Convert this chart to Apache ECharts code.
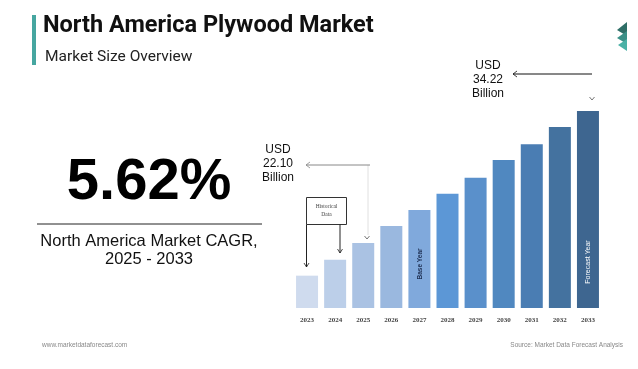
<!DOCTYPE html>
<html>
<head>
<meta charset="utf-8">
<script src="https://cdn.jsdelivr.net/npm/echarts@6/dist/echarts.min.js"></script>
<style>
html,body{margin:0;padding:0;background:#fff;}
#chart{width:638px;height:369px;}
</style>
</head>
<body>
<div id="chart"></div>
<script>
// ---- data ----
var years = ['2023','2024','2025','2026','2027','2028','2029','2030','2031','2032','2033'];
var marketSize = [19.10, 20.57, 22.10, 23.66, 25.13, 26.63, 28.10, 29.72, 31.16, 32.75, 34.22]; // USD billion
var cagrText = '5.62%';
var startLabel = ['USD', '22.10', 'Billion'];
var endLabel = ['USD', '34.22', 'Billion'];

// ---- styles ----
var palette = ['#cfdbee','#bccfe9','#aac2e3','#9ab8df','#80a9dc','#5c97d6','#5a90cb','#5088c0','#4a7db3','#44729f','#3e6690'];

var chart = echarts.init(document.getElementById('chart'), null, {renderer:'canvas'});

function arrowLeft(x1, x2, y, color){
  return [
    {type:'line', shape:{x1:x1, y1:y, x2:x2, y2:y}, style:{stroke:color, lineWidth:1}},
    {type:'polyline', shape:{points:[[x2+4,y-3],[x2,y],[x2+4,y+3]]}, style:{stroke:color, lineWidth:0.8, fill:null}}
  ];
}
function arrowDown(x, y1, y2, color){
  return [
    {type:'line', shape:{x1:x, y1:y1, x2:x, y2:y2}, style:{stroke:color, lineWidth:1}},
    {type:'polyline', shape:{points:[[x-2.5,y2-4],[x,y2],[x+2.5,y2-4]]}, style:{stroke:color, lineWidth:0.8, fill:null}}
  ];
}
function check(x, y, color){
  return {type:'polyline', shape:{points:[[x-2.5,y-2],[x,y+1],[x+2.5,y-2]]}, style:{stroke:color, lineWidth:0.8, fill:null}};
}

var graphics = [
  // title block
  {type:'rect', shape:{x:32, y:15, width:4, height:50}, style:{fill:'#46a6a0'}},
  {type:'text', x:43, y:26, style:{text:'North America Plywood Market', font:'bold 23.5px Roboto', fill:'#111', textVerticalAlign:'middle'}},
  {type:'text', x:45, y:57, style:{text:'Market Size Overview', font:'15.5px Roboto', fill:'#222', textVerticalAlign:'middle'}},
  // logo
  {type:'polygon', shape:{points:[[627,22],[617,30],[627,36]]}, style:{fill:'#2f6e67'}},
  {type:'polygon', shape:{points:[[627,31],[617,38],[627,44]]}, style:{fill:'#3b9087'}},
  {type:'polygon', shape:{points:[[627,39],[618,45],[627,51]]}, style:{fill:'#4bb1a6'}},
  // CAGR block
  {type:'text', x:149, y:212, style:{text:cagrText, font:'bold 58px "Liberation Sans", Arial', fill:'#000', textAlign:'center', textVerticalAlign:'bottom'}},
  {type:'line', shape:{x1:37, y1:224, x2:262, y2:224}, style:{stroke:'#222', lineWidth:1}},
  {type:'text', x:149, y:241, style:{text:'North America Market CAGR,', font:'16.5px "Liberation Sans", Arial', fill:'#111', textAlign:'center', textVerticalAlign:'middle'}},
  {type:'text', x:149, y:259, style:{text:'2025 - 2033', font:'16.5px "Liberation Sans", Arial', fill:'#111', textAlign:'center', textVerticalAlign:'middle'}},
  // USD 22.10 annotation
  {type:'text', x:278, y:164, style:{text:startLabel.join('\n'), font:'12px "Liberation Sans", Arial', fill:'#111', textAlign:'center', textVerticalAlign:'middle', lineHeight:14}},
  // USD 34.22 annotation
  {type:'text', x:488, y:80, style:{text:endLabel.join('\n'), font:'12px "Liberation Sans", Arial', fill:'#111', textAlign:'center', textVerticalAlign:'middle', lineHeight:14}},
  {type:'line', shape:{x1:368, y1:165, x2:368, y2:235}, style:{stroke:'#d8d8d8', lineWidth:0.8}},
  check(367, 238, '#555'),
  check(592, 99, '#555'),
  // Historical data box
  {type:'rect', shape:{x:306.5, y:197.5, width:40, height:27}, style:{stroke:'#333', lineWidth:1, fill:'#fff'}},
  {type:'text', x:326.5, y:211, style:{text:'Historical\nData', font:'5.5px "Liberation Serif", serif', fill:'#444', textAlign:'center', textVerticalAlign:'middle', lineHeight:8}},
  // rotated labels in bars
  {type:'text', x:420, y:264, rotation:Math.PI/2, style:{text:'Base Year', font:'bold 6.5px "Liberation Sans", Arial', fill:'#1d2f52', textAlign:'center', textVerticalAlign:'middle'}},
  {type:'text', x:588, y:262, rotation:Math.PI/2, style:{text:'Forecast Year', font:'7px "Liberation Sans", Arial', fill:'#ffffff', textAlign:'center', textVerticalAlign:'middle'}},
  // footer
  {type:'text', x:42, y:345, style:{text:'www.marketdataforecast.com', font:'6.5px "Liberation Sans", Arial', fill:'#888', textVerticalAlign:'middle'}},
  {type:'text', x:623, y:345, style:{text:'Source: Market Data Forecast Analysis', font:'6.5px "Liberation Sans", Arial', fill:'#888', textAlign:'right', textVerticalAlign:'middle'}}
];
graphics = graphics
  .concat(arrowLeft(370, 306, 165, '#888'))
  .concat(arrowLeft(592, 513, 74, '#111'))
  .concat(arrowDown(306.5, 224.5, 267, '#222'))
  .concat(arrowDown(340, 224.5, 253, '#222'));
graphics.forEach(function(g){ g.z = 100; });

chart.setOption({
  animation:false,
  backgroundColor:'#ffffff',
  grid:{left:293, right:36, top:111, bottom:61},
  xAxis:{
    type:'category', data:years,
    axisLine:{show:false}, axisTick:{show:false},
    axisLabel:{margin:9, fontSize:7, fontFamily:'"Liberation Serif", serif', color:'#444', fontWeight:'bold'}
  },
  yAxis:{type:'value', min:16.13, max:34.22, show:false, splitLine:{show:false}},
  series:[{
    type:'bar', barWidth:22,
    data:marketSize.map(function(v,i){return {value:v, itemStyle:{color:palette[i]}};})
  }],
  graphic:graphics
});
</script>
</body>
</html>
